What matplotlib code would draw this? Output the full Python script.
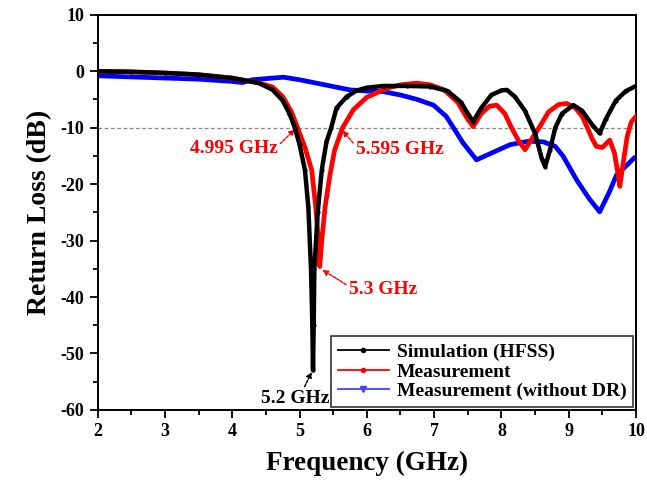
import matplotlib
matplotlib.use("Agg")
import matplotlib.pyplot as plt
from matplotlib.lines import Line2D
from matplotlib.ticker import MultipleLocator

plt.rcParams['font.family'] = ['Liberation Serif', 'DejaVu Serif']
plt.rcParams['font.weight'] = 'bold'
plt.rcParams['axes.unicode_minus'] = False

# Simulation (HFSS)
sim_f = [2.0, 2.5, 3.0, 3.5, 4.0, 4.4, 4.6, 4.75, 4.85, 4.93, 5.0, 5.08, 5.13, 5.17, 5.19,
         5.2, 5.21, 5.22, 5.27, 5.33, 5.4, 5.47, 5.55, 5.7, 5.85, 6.0, 6.25, 6.6, 6.94,
         7.2, 7.4, 7.5, 7.58, 7.7, 7.85, 8.0, 8.08, 8.2, 8.35, 8.5, 8.6, 8.65, 8.72, 8.8,
         8.9, 9.07, 9.2, 9.35, 9.46, 9.55, 9.7, 9.85, 10.0]
sim_db = [0.0, -0.1, -0.3, -0.6, -1.2, -2.1, -3.3, -5.2, -7.5, -10.0, -13.0, -17.5, -24.0, -35.0, -45.0,
          -53.0, -45.0, -35.0, -25.0, -17.5, -12.5, -10.0, -6.5, -4.5, -3.4, -2.9, -2.6, -2.6, -2.7,
          -3.5, -5.5, -7.5, -8.9, -6.5, -4.2, -3.4, -3.3, -4.5, -7.0, -11.0, -15.5, -16.9, -14.0, -10.0,
          -7.5, -6.0, -7.0, -9.5, -11.0, -8.5, -5.2, -3.5, -2.6]

# Measurement
meas_f = [2.0, 2.5, 3.0, 3.5, 4.0, 4.41, 4.6, 4.75, 4.88, 4.97, 5.08, 5.18, 5.24, 5.28, 5.3,
          5.33, 5.38, 5.45, 5.52, 5.64, 5.8, 6.0, 6.3, 6.5, 6.74, 6.94, 7.15, 7.35, 7.5, 7.58,
          7.7, 7.82, 7.93, 8.05, 8.15, 8.25, 8.35, 8.45, 8.57, 8.7, 8.85, 8.97, 9.1, 9.2, 9.27,
          9.35, 9.41, 9.5, 9.61, 9.68, 9.73, 9.76, 9.8, 9.87, 9.93, 10.0]
meas_db = [0.0, -0.1, -0.3, -0.6, -1.2, -2.1, -2.8, -4.5, -7.2, -10.0, -13.5, -17.5, -24.0, -30.0, -34.6,
           -30.0, -24.0, -18.5, -14.0, -10.0, -6.8, -4.6, -3.0, -2.4, -2.1, -2.4, -3.3, -5.5, -8.5, -9.8,
           -7.5, -6.2, -6.0, -7.5, -10.0, -12.2, -13.9, -12.0, -9.8, -7.2, -5.9, -5.7, -6.5, -8.0, -9.8,
           -12.0, -13.3, -13.5, -12.2, -14.5, -18.0, -20.4, -17.0, -11.5, -9.0, -8.0]

# Measurement (without DR)
nodr_f = [2.0, 2.5, 3.0, 3.5, 4.0, 4.15, 4.3, 4.5, 4.76, 5.0, 5.25, 5.5, 5.75, 6.0, 6.24, 6.5,
          6.75, 6.99, 7.18, 7.43, 7.63, 7.85, 8.13, 8.4, 8.62, 8.8, 8.92, 9.12, 9.3, 9.46, 9.6,
          9.71, 9.85, 9.97]
nodr_db = [-0.8, -1.0, -1.2, -1.4, -1.8, -2.0, -1.5, -1.3, -1.05, -1.5, -2.1, -2.7, -3.3, -3.5, -3.6, -4.2,
           -5.0, -6.0, -8.0, -12.7, -15.7, -14.5, -13.0, -12.4, -12.5, -13.3, -15.1, -19.3, -22.5, -24.9, -21.5,
           -18.4, -16.8, -15.4]

series_labels = ["Simulation (HFSS)", "Measurement", "Measurement (without DR)"]
x_ticks = [2, 3, 4, 5, 6, 7, 8, 9, 10]
y_ticks = [10, 0, -10, -20, -30, -40, -50, -60]

fig = plt.figure(figsize=(6.47, 4.95), dpi=100)
ax = fig.add_axes([0.151, 0.172, 0.832, 0.798])

ax.axhline(-10, color='#888888', lw=0.9, ls=(0, (3, 2)), zorder=1)

ax.plot(nodr_f, nodr_db, color='#0000ff', lw=3.4, zorder=2)
ax.plot(meas_f, meas_db, color='#ff0000', lw=3.4, zorder=3)
ax.plot(sim_f, sim_db, color='black', lw=3.2, marker='.', ms=4, zorder=4)

ax.set_xlim(2, 10)
ax.set_ylim(-60, 10)
ax.set_xticks(x_ticks)
ax.set_yticks(y_ticks)
ax.xaxis.set_minor_locator(MultipleLocator(0.5))
ax.yaxis.set_minor_locator(MultipleLocator(5))
ax.tick_params(which='both', direction='out', top=False, right=False, width=1.3, labelsize=13)
ax.tick_params(which='major', length=6)
ax.tick_params(which='minor', length=3.5)
for lbl in ax.get_xticklabels() + ax.get_yticklabels():
    lbl.set_fontweight('bold')
for s in ax.spines.values():
    s.set_linewidth(1.4)

ax.set_xlabel("Frequency (GHz)", fontsize=19.5, fontweight='bold', labelpad=8)
ax.set_ylabel("Return Loss (dB)", fontsize=20, fontweight='bold', labelpad=6)

arrow_kw = dict(arrowstyle='-|>', lw=1.0, ls=(0, (2, 1)), mutation_scale=8, shrinkA=0, shrinkB=0)
ax.annotate("4.995 GHz", xy=(4.93, -10.3), xytext=(4.02, -13.6), color='#ff0000', fontsize=14,
            fontweight='bold', ha='center', va='center',
            arrowprops=dict(color='#ff0000', relpos=(1.0, 0.6), **arrow_kw))
ax.annotate("5.595 GHz", xy=(5.64, -10.5), xytext=(6.49, -13.9), color='#ff0000', fontsize=14,
            fontweight='bold', ha='center', va='center',
            arrowprops=dict(color='#ff0000', relpos=(0.0, 0.7), **arrow_kw))
ax.annotate("5.3 GHz", xy=(5.34, -35.2), xytext=(6.24, -38.7), color='#ff0000', fontsize=14,
            fontweight='bold', ha='center', va='center',
            arrowprops=dict(color='#ff0000', relpos=(0.0, 0.7), **arrow_kw))
ax.annotate("5.2 GHz", xy=(5.18, -53.3), xytext=(4.94, -57.9), color='black', fontsize=14,
            fontweight='bold', ha='center', va='center',
            arrowprops=dict(color='black', relpos=(0.6, 0.9), **arrow_kw))

handles = [
    Line2D([], [], color='black', lw=1.3, marker='.', ms=6),
    Line2D([], [], color='#ff0000', lw=1.3, marker='.', ms=6),
    Line2D([], [], color='#4040ff', lw=1.3, marker='v', ms=5),
]
leg = ax.legend(handles, series_labels, loc='lower right', frameon=True,
                fancybox=False, edgecolor='black', borderaxespad=0.15, handlelength=2.6,
                handletextpad=0.4, labelspacing=0.1, borderpad=0.35, prop={'weight': 'bold', 'size': 14})
leg.get_frame().set_linewidth(1.2)

fig.savefig("out.png", dpi=100)
